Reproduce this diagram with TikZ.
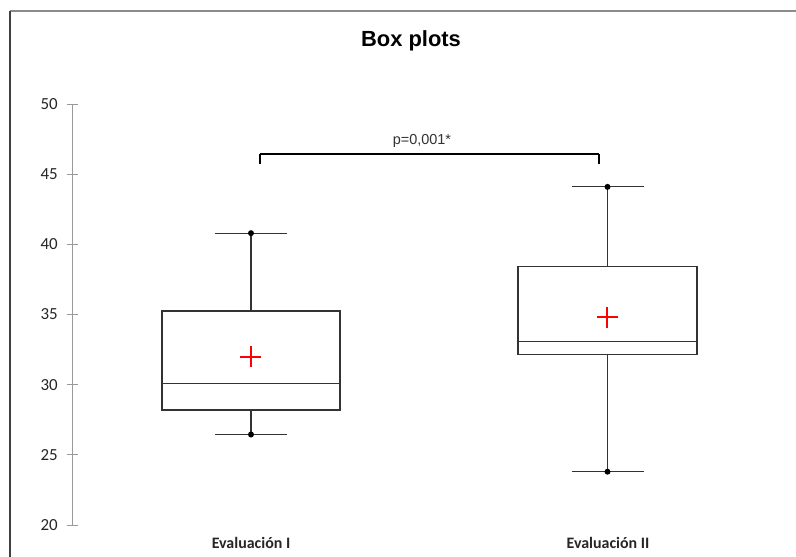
\documentclass[tikz,border=0pt]{standalone}
\usepackage{fontspec}
\setmainfont{Liberation Sans}
\newfontfamily\calibri{Carlito}
\definecolor{meanred}{RGB}{255,0,0}
\begin{document}
\begin{tikzpicture}[x=1bp,y=-1bp,
  declare function={vy(\v)=525-14.03*(\v-20);},
  boxline/.style={draw=black!80,line width=1.1bp},
  whisk/.style={draw=black!80,line width=1.1bp},
  dotmark/.style={fill=black,draw=none},
  meanmark/.style={fill=meanred,draw=none},
  axisline/.style={draw=black!40,line width=1bp},
  ticklab/.style={font=\calibri\fontsize{17}{19}\selectfont,text=black!85,anchor=east,inner sep=0pt},
  catlab/.style={font=\calibri\bfseries\fontsize{16}{18}\selectfont,text=black!85,anchor=base,inner sep=0pt},
]
\useasboundingbox (0,0) rectangle (796,557);
\fill[white] (0,0) rectangle (796,557);
% frame
\coordinate (frTL) at (10,11);
\coordinate (frTR) at (796,11);
\coordinate (frBL) at (10,557);
\draw[draw=black!45,line width=2bp] (frTL) -- (frTR);
\draw[draw=black!75,line width=1.5bp] (frTL) -- (frBL);
% title
\node[font=\bfseries\fontsize{22}{24}\selectfont,anchor=base,inner sep=0pt] (title) at (411,47) {Box plots};
% axis
\coordinate (axTop) at (72,{vy(50)});
\coordinate (axBot) at (72,{vy(20)});
\draw[axisline] (axTop) -- (axBot);
\foreach \v in {20,25,...,50}{
  \coordinate (tkL\v) at (67,{vy(\v)});
  \coordinate (tkR\v) at (78,{vy(\v)});
  \draw[axisline] (tkL\v) -- (tkR\v);
  \node[ticklab] (lab\v) at (58,{vy(\v)}) {\v};
}
% box plot macro: #1 name, #2 center x, #3 half width, #4 cap half width,
% #5 low whisker, #6 q1, #7 median, #8 q3, #9 high whisker
\newcommand\bplot[9]{%
  \coordinate (#1tl) at ({#2-#3},{vy(#8)});
  \coordinate (#1br) at ({#2+#3},{vy(#6)});
  \coordinate (#1ml) at ({#2-#3},{vy(#7)});
  \coordinate (#1mr) at ({#2+#3},{vy(#7)});
  \coordinate (#1qt) at (#2,{vy(#8)});
  \coordinate (#1qb) at (#2,{vy(#6)});
  \coordinate (#1hi) at (#2,{vy(#9)});
  \coordinate (#1lo) at (#2,{vy(#5)});
  \coordinate (#1hil) at ({#2-#4},{vy(#9)});
  \coordinate (#1hir) at ({#2+#4},{vy(#9)});
  \coordinate (#1lol) at ({#2-#4},{vy(#5)});
  \coordinate (#1lor) at ({#2+#4},{vy(#5)});
  \draw[whisk] (#1qt) -- (#1hi);
  \draw[whisk] (#1qb) -- (#1lo);
  \draw[whisk] (#1hil) -- (#1hir);
  \draw[whisk] (#1lol) -- (#1lor);
  \draw[boxline,fill=white] (#1tl) rectangle (#1br);
  \draw[boxline] (#1ml) -- (#1mr);
  \fill[dotmark] (#1hi) circle (3bp);
  \fill[dotmark] (#1lo) circle (3bp);
}
\bplot{A}{251}{89}{36}{26.45}{28.2}{30.1}{35.25}{40.8}
\bplot{B}{607.5}{89.5}{36}{23.8}{32.15}{33.1}{38.45}{44.1}
% means (plus signs as filled bars)
\newcommand\meanplus[3]{%
  \coordinate (#1) at (#2,{vy(#3)});
  \fill[meanmark] ([xshift=-10.5bp,yshift=-1bp]#1) rectangle ([xshift=10.5bp,yshift=1bp]#1);
  \fill[meanmark] ([xshift=-1bp,yshift=-10.5bp]#1) rectangle ([xshift=1bp,yshift=10.5bp]#1);
}
\meanplus{mA}{250.5}{32.0}
\meanplus{mB}{607}{34.8}
% significance bracket
\coordinate (brL) at (260,154);
\coordinate (brR) at (599,154);
\coordinate (brLd) at (260,164);
\coordinate (brRd) at (599,164);
\draw[line width=2bp] (brL) -- (brR);
\draw[line width=1.2bp] (brL) -- (brLd);
\draw[line width=1.2bp] (brR) -- (brRd);
\node[font=\fontsize{14.5}{16}\selectfont,text=black!80,anchor=base,inner sep=0pt] (pval) at (422,145) {p=0,001*};
% category labels
\node[catlab] (catA) at (251,548) {Evaluación I};
\node[catlab] (catB) at (608,548) {Evaluación II};
\end{tikzpicture}
\end{document}
